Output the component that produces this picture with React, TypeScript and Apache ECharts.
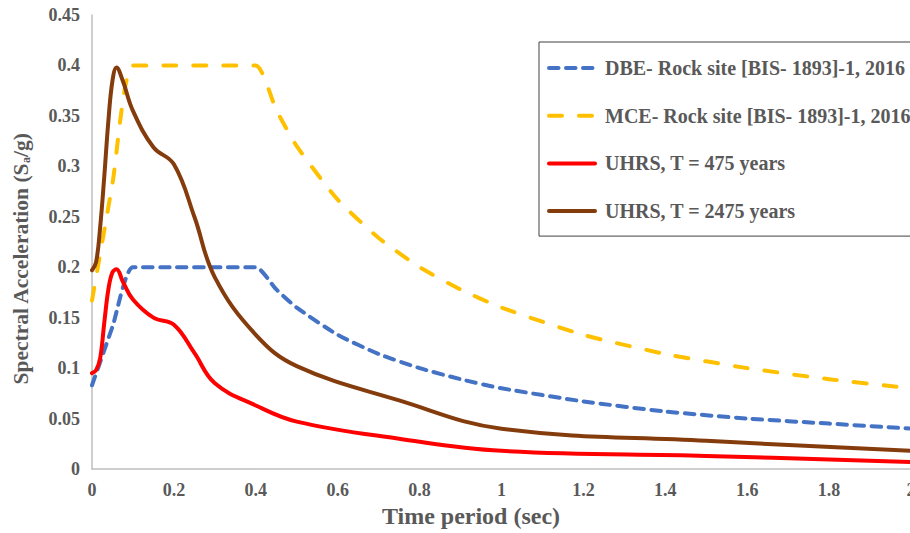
import React, { useEffect, useRef } from "react";
import * as echarts from "echarts";

const codePeriods = [0, 0.05, 0.1, 0.2, 0.3, 0.4, 0.45, 0.5, 0.6, 0.7, 0.8, 0.9, 1.0, 1.2, 1.4, 1.6, 1.8, 2.0];
const dbeValues = [0.083, 0.141, 0.2, 0.2, 0.2, 0.2, 0.178, 0.16, 0.133, 0.114, 0.1, 0.089, 0.08, 0.067, 0.057, 0.05, 0.045, 0.04];
const mceValues = [0.167, 0.283, 0.4, 0.4, 0.4, 0.4, 0.356, 0.32, 0.267, 0.229, 0.2, 0.178, 0.16, 0.133, 0.114, 0.1, 0.089, 0.08];

const uhrsPeriods = [0, 0.01, 0.02, 0.03, 0.04, 0.05, 0.06, 0.075, 0.1, 0.15, 0.2, 0.25, 0.3, 0.4, 0.5, 0.75, 1.0, 1.5, 2.0];
const uhrs475 = [0.095, 0.098, 0.11, 0.145, 0.178, 0.195, 0.198, 0.186, 0.168, 0.15, 0.143, 0.115, 0.085, 0.063, 0.047, 0.03, 0.018, 0.013, 0.007];
const uhrs2475 = [0.197, 0.205, 0.24, 0.29, 0.345, 0.385, 0.398, 0.385, 0.355, 0.319, 0.302, 0.25, 0.19, 0.133, 0.102, 0.068, 0.04, 0.028, 0.018];

const seriesNames = [
  "DBE- Rock site [BIS- 1893]-1, 2016",
  "MCE- Rock site [BIS- 1893]-1, 2016",
  "UHRS, T = 475 years",
  "UHRS, T = 2475 years",
];

const xTitle = "Time period (sec)";
const yTitle = "{b|Spectral Acceleration (S}{s|a}{b|/g)}";

const FONT = "'Liberation Serif', 'Times New Roman', serif";
const GREY = "#595959";

const pairs = (xs: number[], ys: number[]) => xs.map((x, i) => [x, ys[i]]);

export default function App() {
  const ref = useRef<HTMLDivElement>(null);
  useEffect(() => {
    if (!ref.current) return;
    const chart = echarts.init(ref.current, undefined, { renderer: "svg" });
    const mk = (name: string, data: number[][], color: string, dash: any, smooth: number) => ({
      name,
      type: "line",
      data,
      smooth,
      showSymbol: false,
      symbol: "none",
      lineStyle: { color, width: 4, type: dash, cap: "round", join: "round" },
      itemStyle: { color },
    });
    chart.setOption({
      animation: false,
      textStyle: { fontFamily: FONT },
      grid: { left: 92, top: 15, width: 819, height: 454, containLabel: false, outerBoundsMode: "none" },
      legend: {
        orient: "vertical",
        left: 539,
        top: 42,
        padding: [16, 40, 15, 8],
        borderColor: "#404040",
        borderWidth: 1,
        itemWidth: 46,
        itemHeight: 14,
        itemGap: 27.7,
        itemStyle: { opacity: 0 },
        lineStyle: { width: 4, cap: "round" },
        textStyle: { fontFamily: FONT, fontSize: 20, fontWeight: "bold", color: GREY, padding: [0, 0, 0, 5] },
        data: seriesNames,
      },
      xAxis: {
        type: "value",
        min: 0,
        max: 2,
        interval: 0.2,
        axisLine: { show: true, lineStyle: { color: "#bfbfbf", width: 1.5 } },
        axisTick: { show: false },
        splitLine: { show: false },
        axisLabel: { fontFamily: FONT, fontSize: 18, fontWeight: "bold", color: GREY, margin: 12 },
      },
      yAxis: {
        type: "value",
        min: 0,
        max: 0.45,
        interval: 0.05,
        axisLine: { show: true, lineStyle: { color: "#bfbfbf", width: 1.5 } },
        axisTick: { show: false },
        splitLine: { show: false },
        axisLabel: { fontFamily: FONT, fontSize: 18, fontWeight: "bold", color: GREY, margin: 12 },
      },
      graphic: [
        {
          type: "text",
          x: 471,
          y: 516,
          style: { text: xTitle, font: `bold 24px ${FONT}`, fill: GREY, align: "center", verticalAlign: "middle" },
        },
        {
          type: "text",
          x: 21,
          y: 259,
          rotation: Math.PI / 2,
          style: {
            text: yTitle,
            align: "center",
            verticalAlign: "middle",
            rich: {
              b: { fontFamily: FONT, fontSize: 21.5, fontWeight: "bold", fill: GREY },
              s: { fontFamily: FONT, fontSize: 12, fontWeight: "bold", fill: GREY, padding: [9, 0, 0, 0] },
            },
          },
        },
      ],
      series: [
        mk(seriesNames[0], pairs(codePeriods, dbeValues), "#4472C4", [9.5, 7.5], 0.2),
        mk(seriesNames[1], pairs(codePeriods, mceValues), "#FFC000", [13, 17], 0.2),
        mk(seriesNames[2], pairs(uhrsPeriods, uhrs475), "#FF0000", "solid", 0.4),
        mk(seriesNames[3], pairs(uhrsPeriods, uhrs2475), "#843C0C", "solid", 0.4),
      ],
    });
    return () => chart.dispose();
  }, []);
  return <div ref={ref} style={{ width: 910, height: 533, position: "absolute", left: 0, top: 0 }} />;
}
